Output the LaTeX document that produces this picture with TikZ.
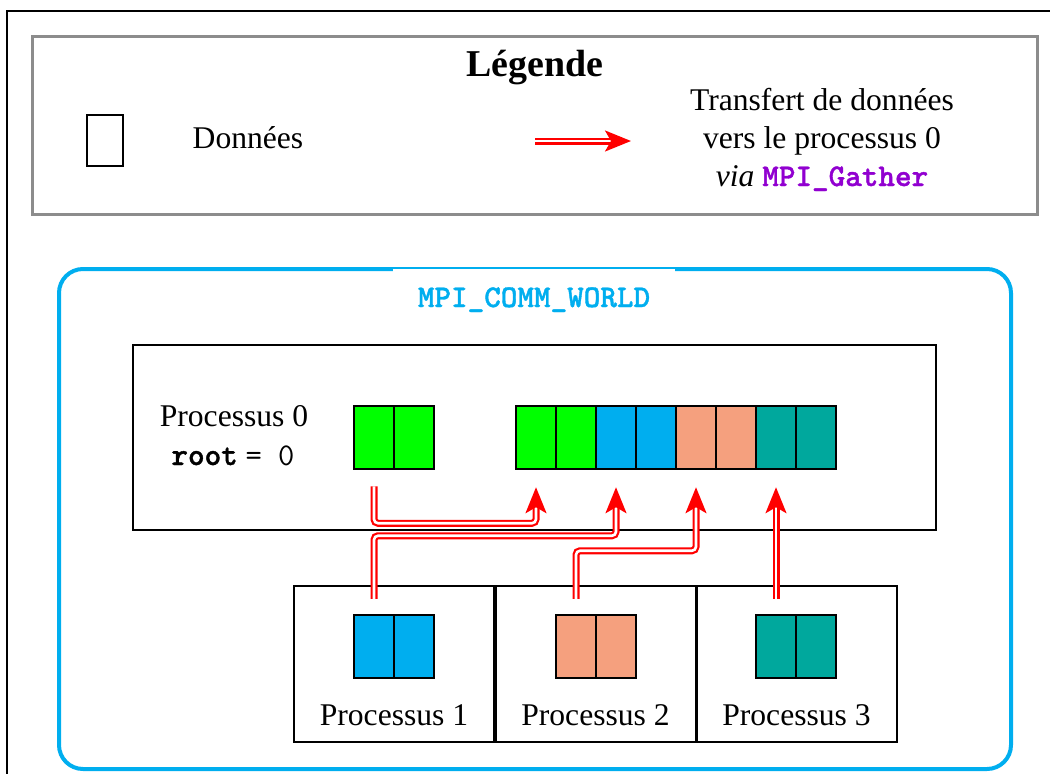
\documentclass[tikz,border=0pt]{standalone}
\usepackage{fontspec}
\setmainfont{Liberation Serif}
\newfontfamily\mpitt{lmmonolt10-bold.otf}[FakeBold=1.2]
\usetikzlibrary{arrows.meta,calc}
\definecolor{mpiblue}{HTML}{00AEEF}
\definecolor{dgreen}{HTML}{00FF00}
\definecolor{dsalmon}{HTML}{F5A07E}
\definecolor{dteal}{HTML}{00A89D}
\definecolor{mpipurple}{HTML}{9100D0}
\definecolor{legendgray}{HTML}{8C8C8C}
\begin{document}
\begin{tikzpicture}[x=1pt,y=-1pt,
  base font/.style={font=\fontsize{31.6}{37.9}\selectfont},
  every node/.style={base font},
  cell/.style={draw=black, line width=2.5pt, minimum width=40pt, minimum height=63pt, inner sep=0pt},
  procbox/.style={draw=black, line width=2pt, minimum width=200pt, minimum height=156pt, inner sep=0pt},
  xfer/.style={draw=red, line width=2.2pt, double=white, double distance=2.6pt, rounded corners=4pt,
    -{Stealth[length=26pt,width=21pt,inset=6pt]}},
  lbl/.style={inner sep=0pt, align=center, anchor=base}]
\useasboundingbox (0,0) rectangle (1050,774);
% outer page frame
\draw[line width=2pt] (7,774) -- (7,11) -- (1050,11);
% legend
\node[draw=legendgray, line width=3pt, minimum width=1005pt, minimum height=178pt, inner sep=0pt] (legend) at (534.5,125) {};
\node[lbl, font=\fontsize{37.9}{45}\selectfont\bfseries] (legtitle) at (535,76) {Légende};
\node[draw=black, line width=2.2pt, minimum width=36pt, minimum height=51pt, inner sep=0pt] (legcell) at (105,140.5) {};
\node[lbl] (legdata) at (248,148) {Données};
\coordinate (la0) at (535,141);
\coordinate (la1) at (631,141);
\draw[xfer, rounded corners=0pt] (la0) -- (la1);
\node[lbl] (legxfer) at (822,186) {Transfert de données\\vers le processus 0\\\textit{via} {\mpitt\color{mpipurple}MPI\_Gather}};
% communicator
\node[draw=mpiblue, line width=4pt, rounded corners=24pt, minimum width=952pt, minimum height=500pt, inner sep=0pt] (world) at (535,519) {};
\fill[white] (393,269) rectangle (675,300);
\node[lbl, text=mpiblue, font=\fontsize{31.6}{37.9}\selectfont\mpitt] (wtitle) at (534,307) {MPI\_COMM\_WORLD};
% process 0
\node[draw=black, line width=2pt, minimum width=803pt, minimum height=185pt, inner sep=0pt] (p0) at (534.5,437.5) {};
\node[lbl] (p0name) at (234,426) {Processus 0};
\node[lbl] (p0root) at (233,465) {{\mpitt root} {\ttfamily = 0}};
\node[cell, fill=dgreen] (p0a) at (374,437.5) {};
\node[cell, fill=dgreen] (p0b) at (414,437.5) {};
\node[cell, fill=dgreen] (g1) at (536,437.5) {};
\node[cell, fill=dgreen] (g2) at (576,437.5) {};
\node[cell, fill=mpiblue] (g3) at (616,437.5) {};
\node[cell, fill=mpiblue] (g4) at (656,437.5) {};
\node[cell, fill=dsalmon] (g5) at (696,437.5) {};
\node[cell, fill=dsalmon] (g6) at (736,437.5) {};
\node[cell, fill=dteal] (g7) at (776,437.5) {};
\node[cell, fill=dteal] (g8) at (816,437.5) {};
% processes 1-3
\node[procbox] (p1) at (394,664) {};
\node[procbox] (p2) at (595.5,664) {};
\node[procbox] (p3) at (796.5,664) {};
\node[lbl] (p1name) at (394,725) {Processus 1};
\node[lbl] (p2name) at (595.5,725) {Processus 2};
\node[lbl] (p3name) at (796.5,725) {Processus 3};
\node[cell, fill=mpiblue] (p1a) at (374,646.5) {};
\node[cell, fill=mpiblue] (p1b) at (414,646.5) {};
\node[cell, fill=dsalmon] (p2a) at (576,646.5) {};
\node[cell, fill=dsalmon] (p2b) at (616,646.5) {};
\node[cell, fill=dteal] (p3a) at (776,646.5) {};
\node[cell, fill=dteal] (p3b) at (816,646.5) {};
% transfers
\draw[xfer] ($(p0a.south)+(0,16)$) -- ++(0,37) -| ($(g1.south)+(0,17)$);
\draw[xfer] ($(p1a.north)+(0,-15)$) -- ++(0,-63) -| ($(g3.south)+(0,17)$);
\draw[xfer] ($(p2a.north)+(0,-15)$) -- ++(0,-48) -| ($(g5.south)+(0,17)$);
\draw[xfer] ($(p3a.north)+(0,-15)$) -- ($(g7.south)+(0,17)$);
\end{tikzpicture}
\end{document}
